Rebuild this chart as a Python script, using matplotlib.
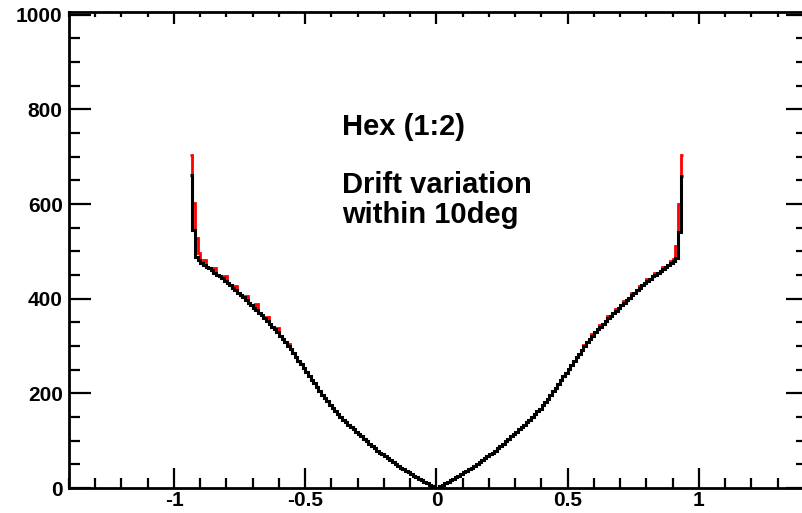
import numpy as np
import matplotlib
matplotlib.use("Agg")
import matplotlib.pyplot as plt
from matplotlib.ticker import MultipleLocator

plt.rcParams['font.family'] = ['Liberation Sans', 'DejaVu Sans']
plt.rcParams['font.weight'] = 'bold'

# histogram binning
bin_lo, bin_hi, n_bins = -0.94, 0.94, 188

# black histogram (left half then right half, left -> right)
black_left = [661, 545, 488, 481, 476, 472, 468, 464, 460, 455,
              451, 447, 443, 438, 433, 428, 423, 418, 413, 408,
              403, 397, 392, 387, 381, 376, 370, 365, 359, 353,
              347, 341, 335, 329, 322, 315, 308, 301, 293, 285,
              277, 269, 261, 253, 245, 237, 229, 221, 213, 205,
              197, 190, 183, 176, 169, 162, 156, 150, 144, 139,
              134, 129, 124, 119, 114, 109, 104, 99, 94, 89,
              84, 79, 75, 71, 67, 63, 59, 55, 51, 47,
              43, 40, 36, 33, 29, 26, 23, 19, 16, 13,
              10, 7, 4, 1]
black_right = [1, 4, 7, 10, 13, 16, 19, 23, 26, 29,
               33, 36, 40, 43, 47, 51, 55, 59, 63, 67,
               71, 75, 79, 84, 89, 94, 99, 104, 109, 114,
               119, 124, 129, 134, 139, 144, 150, 156, 162, 168,
               175, 182, 189, 196, 204, 212, 220, 228, 236, 244,
               252, 260, 268, 276, 284, 292, 300, 308, 315, 322,
               329, 335, 341, 347, 353, 359, 364, 370, 375, 381,
               386, 392, 397, 402, 408, 413, 418, 423, 428, 433,
               438, 442, 447, 451, 455, 459, 463, 467, 471, 475,
               480, 486, 540, 660]

# red histogram
red_left = [704, 602, 528, 496, 476, 481, 468, 464, 460, 465,
            451, 447, 443, 447, 433, 428, 423, 427, 413, 408,
            403, 406, 392, 387, 381, 389, 370, 365, 359, 361,
            347, 341, 335, 338, 322, 315, 308, 304, 293, 285,
            277, 269, 261, 253, 245, 237, 229, 221, 213, 205,
            197, 190, 183, 176, 169, 162, 156, 150, 144, 139,
            134, 129, 124, 119, 114, 109, 104, 99, 94, 89,
            84, 79, 75, 71, 67, 63, 59, 55, 51, 47,
            43, 40, 36, 33, 29, 26, 23, 19, 16, 13,
            10, 7, 4, 1]
red_right = [1, 4, 7, 10, 13, 16, 19, 23, 26, 29,
             33, 36, 40, 43, 47, 51, 55, 59, 63, 67,
             71, 75, 79, 84, 89, 94, 99, 104, 109, 114,
             119, 124, 129, 134, 139, 144, 150, 156, 162, 168,
             175, 182, 189, 196, 204, 212, 220, 228, 236, 244,
             252, 260, 268, 276, 284, 292, 303, 308, 315, 326,
             329, 335, 344, 347, 353, 363, 364, 370, 379, 381,
             386, 396, 397, 402, 412, 413, 418, 427, 428, 433,
             442, 442, 447, 455, 455, 459, 467, 467, 471, 479,
             483, 512, 600, 704]

x_ticks = [-1, -0.5, 0, 0.5, 1]
x_ticklabels = ["-1", "-0.5", "0", "0.5", "1"]
y_ticks = [0, 200, 400, 600, 800, 1000]
y_ticklabels = ["0", "200", "400", "600", "800", "1000"]

title_lines = ["Hex (1:2)", "Drift variation", "within 10deg"]

edges = np.linspace(bin_lo, bin_hi, n_bins + 1)
black = np.array(black_left + black_right)
red = np.array(red_left + red_right)

fig = plt.figure(figsize=(8.03, 5.13), dpi=100)
ax = fig.add_axes([69 / 803, 25 / 513, (804 - 69) / 803, (488 - 11.5) / 513])

ax.stairs(red, edges, baseline=None, color='#ff0000', lw=2.0, zorder=2)
ax.stairs(black, edges, baseline=None, color='black', lw=2.2, zorder=3)

ax.set_xlim(-1.4, 1.4)
ax.set_ylim(0, 1007)

ax.set_xticks(x_ticks)
ax.set_xticklabels(x_ticklabels)
ax.set_yticks(y_ticks)
ax.set_yticklabels(y_ticklabels)
ax.xaxis.set_minor_locator(MultipleLocator(0.1))
ax.yaxis.set_minor_locator(MultipleLocator(50))

for sp in ax.spines.values():
    sp.set_linewidth(2.0)

ax.tick_params(axis='x', which='major', direction='in', length=14.5, width=1.6,
               labelsize=15, pad=2.5)
ax.tick_params(axis='x', which='minor', direction='in', length=7.2, width=1.6)
ax.tick_params(axis='y', which='major', direction='in', length=15.8, width=1.6,
               labelsize=15, pad=4.5)
ax.tick_params(axis='y', which='minor', direction='in', length=7.9, width=1.6)
for lab in ax.get_xticklabels() + ax.get_yticklabels():
    lab.set_fontweight('bold')

# top ticks
axt = ax.twiny()
axt.set_xlim(ax.get_xlim())
axt.set_xticks(x_ticks)
axt.xaxis.set_minor_locator(MultipleLocator(0.1))
axt.tick_params(axis='x', which='major', direction='in', length=8.6, width=1.6,
                labeltop=False)
axt.tick_params(axis='x', which='minor', direction='in', length=3.6, width=1.6)
for sp in axt.spines.values():
    sp.set_visible(False)

# right ticks
axr = ax.twinx()
axr.set_ylim(ax.get_ylim())
axr.set_yticks(y_ticks)
axr.yaxis.set_minor_locator(MultipleLocator(50))
axr.tick_params(axis='y', which='major', direction='in', length=13, width=1.6,
                labelright=False)
axr.tick_params(axis='y', which='minor', direction='in', length=5.5, width=1.6)
for sp in axr.spines.values():
    sp.set_visible(False)

ax.text(-0.36, 747, title_lines[0], fontsize=21, fontweight='bold', va='baseline', ha='left')
ax.text(-0.36, 624, title_lines[1], fontsize=21, fontweight='bold', va='baseline', ha='left')
ax.text(-0.36, 560, title_lines[2], fontsize=21, fontweight='bold', va='baseline', ha='left')

fig.savefig("out.png", dpi=100)
